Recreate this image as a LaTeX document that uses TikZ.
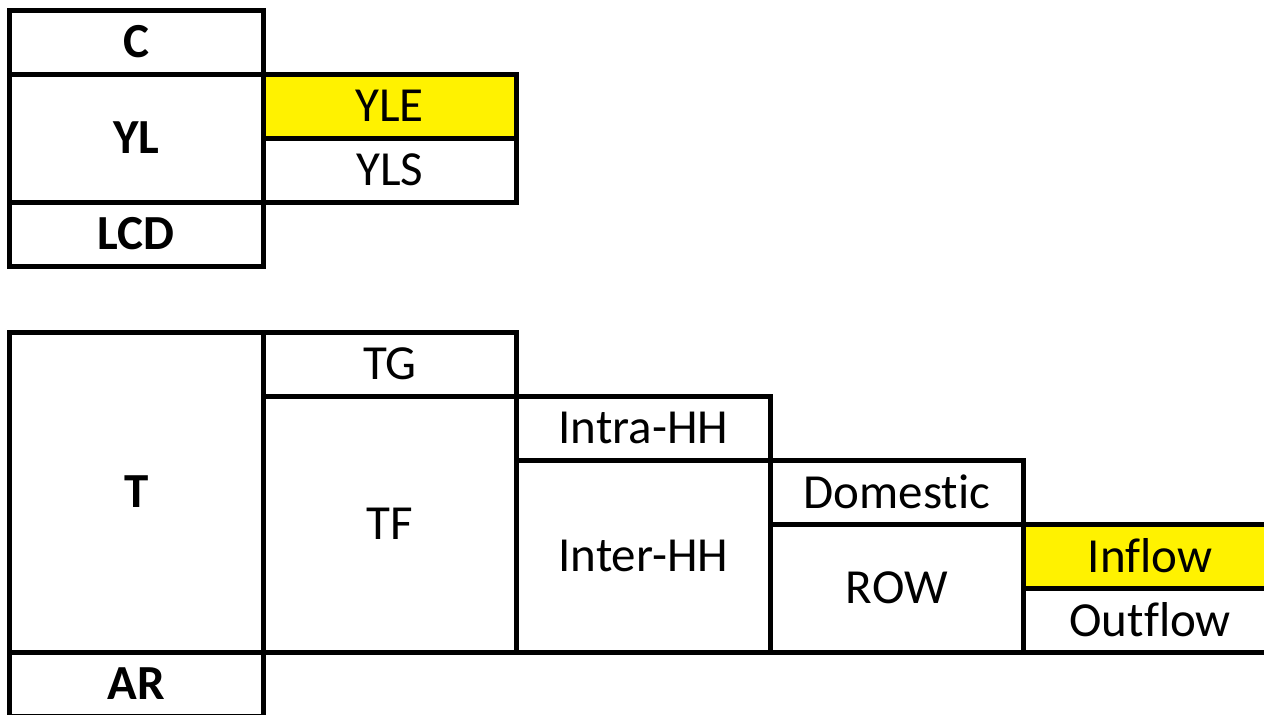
\documentclass[tikz,border=0pt]{standalone}
\usepackage{fontspec}
\setmainfont{Carlito}[Ligatures=NoCommon]
\begin{document}
\begin{tikzpicture}[x=1pt, y=-1pt,
    cell/.style={draw, line width=5pt, anchor=north west, inner sep=0pt, outer sep=0pt,
        minimum width=253.5pt, minimum height=64pt, font=\fontsize{49}{56}\selectfont},
    head/.style={cell, font=\fontsize{49}{56}\selectfont\bfseries},
    hilite/.style={fill=yellow}]
                    \useasboundingbox (0,0) rectangle (1264,715);
                    \clip (0,0) rectangle (1264,715);
                    \node[head] (c) at (9.5,10) {C};
                    \node[head, minimum height=128pt] (yl) at (9.5,74) {YL};
                    \node[head] (lcd) at (9.5,202) {LCD};
                    \node[cell, hilite] (yle) at (263,74) {YLE};
                    \node[cell] (yls) at (263,138) {YLS};

                    \node[head, minimum height=320pt] (t) at (9.5,332) {T};
                    \node[head] (ar) at (9.5,652) {AR};
                    \node[cell] (tg) at (263,332) {TG};
                    \node[cell, minimum height=256pt] (tf) at (263,396) {TF};
                    \node[cell] (intra) at (516.5,396) {Intra-HH};
                    \node[cell, minimum height=192pt] (inter) at (516.5,460) {Inter-HH};
                    \node[cell] (domestic) at (770,460) {Domestic};
                    \node[cell, minimum height=128pt] (row) at (770,524) {ROW};
                    \node[cell, hilite] (inflow) at (1023.5,524) {Inflow};
                    \node[cell] (outflow) at (1023.5,588) {Outflow};
                \end{tikzpicture}
\end{document}
